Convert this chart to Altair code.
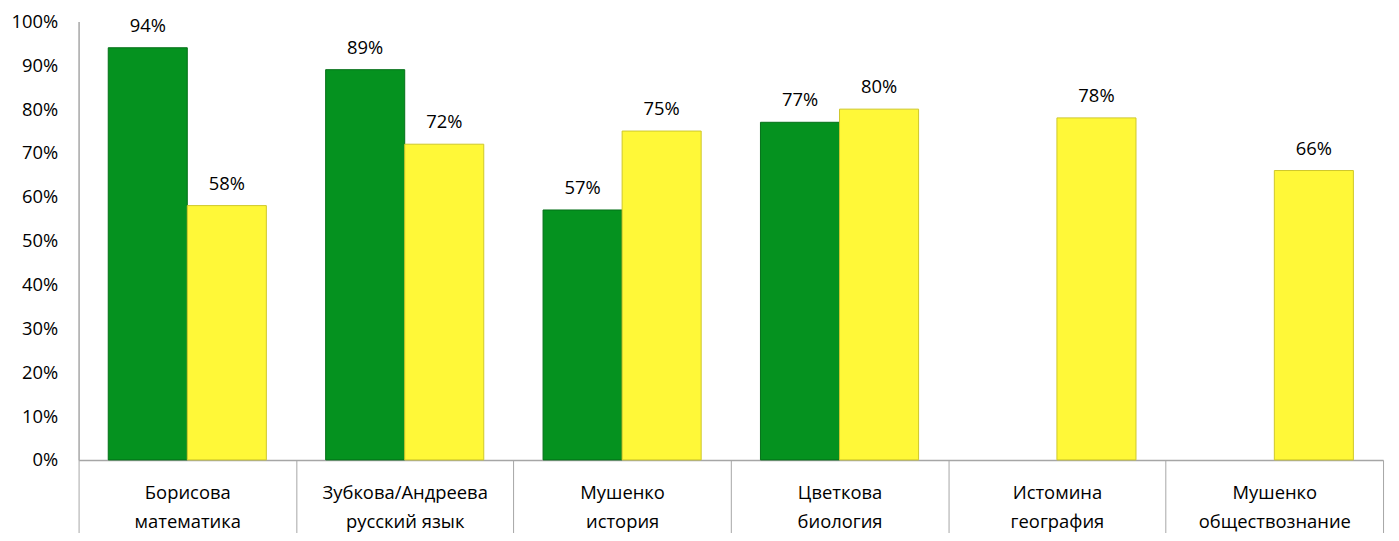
import altair as alt
import pandas as pd

categories = ["Борисова\nматематика", "Зубкова/Андреева\nрусский язык", "Мушенко\nистория",
              "Цветкова\nбиология", "Истомина\nгеография", "Мушенко\nобществознание"]
series_names = ["ряд1", "ряд2"]
green_values = [0.94, 0.89, 0.57, 0.77, None, None]
yellow_values = [0.58, 0.72, 0.75, 0.80, 0.78, 0.66]
colors = ["#05921F", "#FFF838"]
strokes = ["#047018", "#CFC82A"]

rows = []
for i, c in enumerate(categories):
    for s, vals in zip(series_names, [green_values, yellow_values]):
        if vals[i] is not None:
            rows.append({"cat": c, "series": s, "value": vals[i]})
df = pd.DataFrame(rows)

FONT = "Open Sans"

x = alt.X("cat:N", sort=categories, title=None,
          scale=alt.Scale(domain=categories, paddingInner=0, paddingOuter=0),
          axis=alt.Axis(labelAngle=0, labelExpr="split(datum.label, '\\n')",
                        labelLineHeight=29, labelFontSize=18.5, labelFont=FONT,
                        labelColor="#000000", tickBand="extent", tickSize=80,
                        tickColor="#A6A6A6", domainColor="#A6A6A6", domainWidth=1.5,
                        labelPadding=-56))
xo = alt.XOffset("series:N", scale=alt.Scale(domain=series_names, paddingInner=0, paddingOuter=0.375))
y = alt.Y("value:Q", title=None,
          scale=alt.Scale(domain=[0, 1]),
          axis=alt.Axis(values=[i / 10 for i in range(11)], format=".0%", grid=False,
                        ticks=False, tickSize=0, labelPadding=21, labelFontSize=18.5,
                        labelFont=FONT, labelColor="#000000", domainColor="#A6A6A6",
                        domainWidth=1.5))

bars = alt.Chart(df).mark_bar(strokeWidth=1).encode(
    x=x, xOffset=xo, y=y,
    color=alt.Color("series:N", scale=alt.Scale(domain=series_names, range=colors), legend=None),
    stroke=alt.Stroke("series:N", scale=alt.Scale(domain=series_names, range=strokes), legend=None),
)

labels = alt.Chart(df).mark_text(dy=-16, baseline="alphabetic", fontSize=18.5, font=FONT,
                                 color="#000000").encode(
    x=x, xOffset=xo, y=y,
    text=alt.Text("value:Q", format=".0%"),
)

chart = (bars + labels).properties(
    width=1312, height=441,
    autosize=alt.AutoSizeParams(type="none"),
    padding={"left": 71, "top": 12, "right": 8, "bottom": 72},
).configure_view(stroke=None)

chart.save("out.html", embed_options={"renderer": "svg", "actions": False})
